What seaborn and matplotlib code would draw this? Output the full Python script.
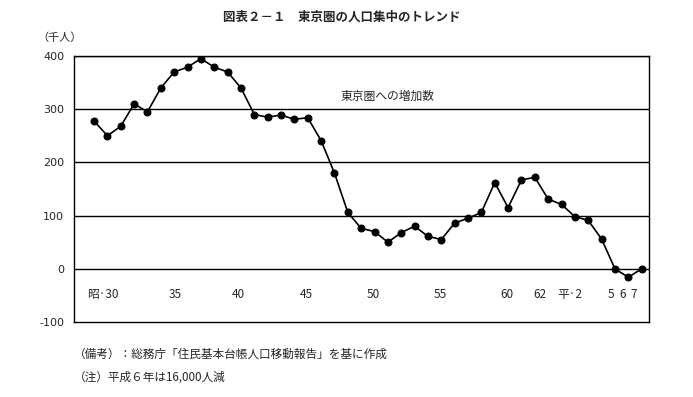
import matplotlib
matplotlib.use("Agg")
import matplotlib.pyplot as plt
import seaborn as sns
import pandas as pd

# 東京圏への人口増加数（千人）、昭和29年〜平成7年
years = list(range(1954, 1996))
increase = [278, 250, 268, 310, 295, 340, 370, 379, 395, 379,
            370, 340, 290, 285, 289, 281, 284, 241, 180, 106,
            76, 70, 50, 68, 80, 61, 55, 86, 95, 106,
            162, 115, 167, 172, 131, 121, 98, 91, 56, 0,
            -16, 0]

# 年次ラベル（元の図の位置に合わせる）
year_labels = ["昭·30", "35", "40", "45", "50", "55", "60", "62", "平·2", "5", "6", "7"]
label_pos = [0.67, 6.06, 10.8, 15.9, 20.9, 25.9, 30.9, 33.4, 35.6, 38.7, 39.6, 40.4]

y_ticks = [-100, 0, 100, 200, 300, 400]

df = pd.DataFrame({"idx": range(len(years)), "year": years, "value": increase})

sns.set_style("white")
plt.rcParams["font.family"] = ["Noto Sans CJK JP", "DejaVu Sans"]

fig = plt.figure(figsize=(6.93, 3.97), dpi=100)
ax = fig.add_axes([74 / 693, 1 - 322 / 397, (649 - 74) / 693, (322 - 56) / 397])

for t in y_ticks[1:]:
    ax.axhline(t, color="black", linewidth=1.0, zorder=1)

sns.lineplot(data=df, x="idx", y="value", ax=ax, color="black", linewidth=1.2,
             marker="o", markersize=5, markeredgecolor="black", zorder=3)

ax.set_xlim(-1.5, 41.55)
ax.set_ylim(-100, 400)
ax.set_xticks([])
ax.set_yticks(y_ticks)
ax.set_yticklabels([str(t) for t in y_ticks], fontsize=8, family="DejaVu Sans")
ax.tick_params(axis="y", length=0, pad=7)
ax.set_xlabel("")
ax.set_ylabel("")
for s in ax.spines.values():
    s.set_color("black")
    s.set_linewidth(1.0)

for lab, pos in zip(year_labels, label_pos):
    ax.text(pos, -49, lab, ha="center", va="center", fontsize=8.5)

ax.text(22.0, 325, "東京圏への増加数", ha="center", va="center", fontsize=8.5)

fig.text(342 / 693, 1 - 17 / 397, "図表２－１　東京圏の人口集中のトレンド",
         ha="center", va="center", fontsize=9, fontweight="bold")
fig.text(60 / 693, 1 - 38 / 397, "（千人）", ha="center", va="center", fontsize=8)
fig.text(74 / 693, 1 - 354 / 397, "（備考）：総務庁「住民基本台帳人口移動報告」を基に作成",
         ha="left", va="center", fontsize=8.4)
fig.text(74 / 693, 1 - 377 / 397, "（注）平成６年は16,000人減",
         ha="left", va="center", fontsize=8.4)

fig.savefig("out.png", dpi=100)
